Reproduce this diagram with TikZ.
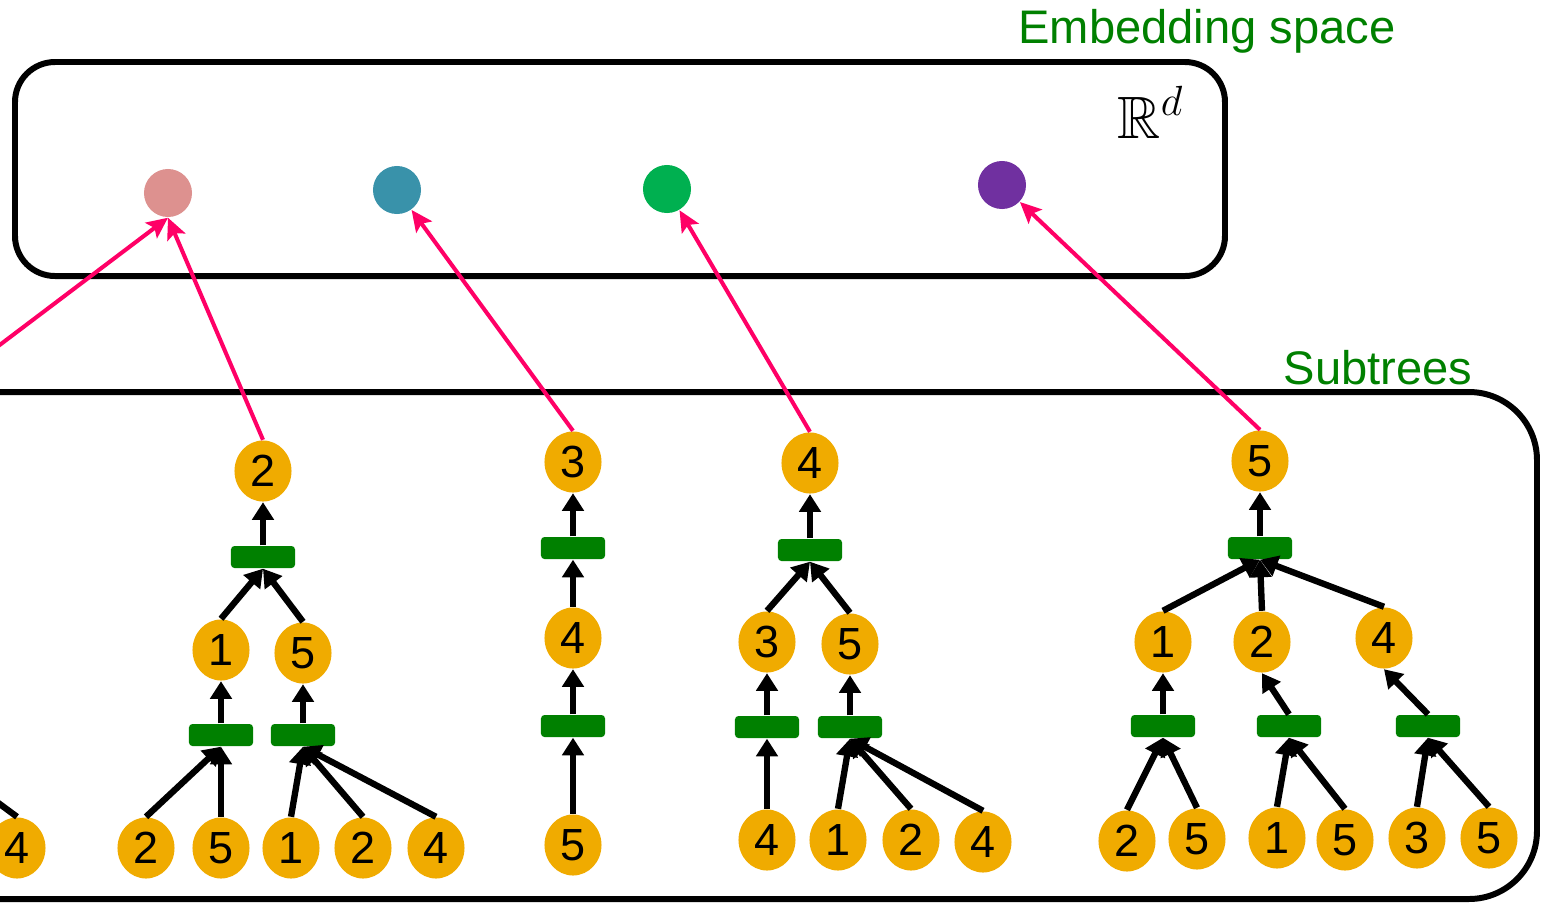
\documentclass[tikz,border=0pt]{standalone}
\usepackage{amsmath}
\usepackage{amssymb}
\usepackage{fontspec}
\setmainfont{Liberation Sans}
\usetikzlibrary{arrows.meta}
\usetikzlibrary{shapes.geometric}

\definecolor{vorange}{RGB}{240,171,0}
\definecolor{bargreen}{RGB}{0,128,0}
\definecolor{mappink}{RGB}{255,0,102}
\definecolor{dotpink}{RGB}{221,145,143}
\definecolor{dotblue}{RGB}{57,146,170}
\definecolor{dotgreen}{RGB}{0,176,80}
\definecolor{dotpurple}{RGB}{112,48,160}

\begin{document}
\begin{tikzpicture}[x = 0.01cm, y = -0.01cm,
  vert/.style = {ellipse, fill = vorange, inner sep = 0pt, minimum width = 0.57cm, minimum height = 0.61cm, font = \fontsize{12.8}{14}\selectfont},
  agg/.style = {rectangle, rounded corners = 1pt, fill = bargreen, inner sep = 0pt, minimum width = 0.64cm, minimum height = 0.22cm},
  emb/.style = {circle, inner sep = 0pt, minimum size = 0.48cm},
  edge/.style = {line width = 1.8pt, -{Triangle[length = 5pt, width = 6pt]}},
  map/.style = {mappink, line width = 1.15pt, -{Stealth[length = 6pt, width = 5.5pt, inset = 1.2pt]}},
  box/.style = {line width = 1.7pt},
  caption/.style = {text = bargreen, font = \fontsize{13.4}{16}\selectfont}]
\useasboundingbox (0, 0) rectangle (1544, 902);

%draw embedding space
\draw [box, rounded corners = 0.4cm] (15, 62) rectangle (1225, 276);
\node [caption, anchor = base] (embtxt) at (1207, 43) {Embedding space};
\node [anchor = base west, inner sep = 0pt, font = \fontsize{17}{20}\selectfont] (rd) at (1117, 138) {$\mathbb{R}^d$};

\node [emb, fill = dotpink] (pdot) at (168, 193) {};
\node [emb, fill = dotblue] (bdot) at (397, 190) {};
\node [emb, fill = dotgreen] (gdot) at (667, 189) {};
\node [emb, fill = dotpurple] (udot) at (1002, 185) {};

%draw subtree box
\draw [box, rounded corners = 0.68cm] (-200, 392) rectangle (1537, 899);
\node [caption, anchor = base] (subtxt) at (1378, 384) {Subtrees};

%cut off tree on the left
\coordinate (lroot) at (-126, 440);
\coordinate (lbar) at (-80, 745);
\node [vert] (l4) at (17, 848) {4};
\draw [edge] (l4.north) -- (lbar);

%draw tree 2
\node [vert] (a) at (263, 471) {2};
\node [agg] (ab) at (263, 557) {};
\node [vert] (a1) at (221, 650) {1};
\node [vert] (a5) at (303, 653) {5};
\node [agg] (a1b) at (221, 735) {};
\node [agg] (a5b) at (303, 735) {};
\node [vert] (a12) at (146, 848) {2};
\node [vert] (a15) at (221, 848) {5};
\node [vert] (a51) at (291, 848) {1};
\node [vert] (a52) at (363, 848) {2};
\node [vert] (a54) at (436, 848) {4};

\draw [edge] (ab.north) -- (a.south);
\draw [edge] (a1.north) -- (ab.south);
\draw [edge] (a5.north) -- (ab.south);
\draw [edge] (a1b.north) -- (a1.south);
\draw [edge] (a5b.north) -- (a5.south);
\draw [edge] (a12.north) -- (a1b.south);
\draw [edge] (a15.north) -- (a1b.south);
\draw [edge] (a51.north) -- (a5b.south);
\draw [edge] (a52.north) -- (a5b.south);
\draw [edge] (a54.north) -- (a5b.south);

%draw tree 3
\node [vert] (b) at (573, 462) {3};
\node [agg] (bb) at (573, 548) {};
\node [vert] (b4) at (573, 638) {4};
\node [agg] (b4b) at (573, 726) {};
\node [vert] (b45) at (573, 845) {5};

\draw [edge] (bb.north) -- (b.south);
\draw [edge] (b4.north) -- (bb.south);
\draw [edge] (b4b.north) -- (b4.south);
\draw [edge] (b45.north) -- (b4b.south);

%draw tree 4
\node [vert] (c) at (810, 463) {4};
\node [agg] (cb) at (810, 550) {};
\node [vert] (c3) at (767, 642) {3};
\node [vert] (c5) at (850, 644) {5};
\node [agg] (c3b) at (767, 727) {};
\node [agg] (c5b) at (850, 727) {};
\node [vert] (c34) at (767, 840) {4};
\node [vert] (c51) at (838, 840) {1};
\node [vert] (c52) at (911, 840) {2};
\node [vert] (c54) at (983, 842) {4};

\draw [edge] (cb.north) -- (c.south);
\draw [edge] (c3.north) -- (cb.south);
\draw [edge] (c5.north) -- (cb.south);
\draw [edge] (c3b.north) -- (c3.south);
\draw [edge] (c5b.north) -- (c5.south);
\draw [edge] (c34.north) -- (c3b.south);
\draw [edge] (c51.north) -- (c5b.south);
\draw [edge] (c52.north) -- (c5b.south);
\draw [edge] (c54.north) -- (c5b.south);

%draw tree 5
\node [vert] (d) at (1260, 461) {5};
\node [agg] (db) at (1260, 548) {};
\node [vert] (d1) at (1163, 642) {1};
\node [vert] (d2) at (1262, 642) {2};
\node [vert] (d4) at (1384, 638) {4};
\node [agg] (d1b) at (1163, 726) {};
\node [agg] (d2b) at (1289, 726) {};
\node [agg] (d4b) at (1428, 726) {};
\node [vert] (d12) at (1127, 841) {2};
\node [vert] (d15) at (1197, 839) {5};
\node [vert] (d21) at (1277, 838) {1};
\node [vert] (d25) at (1345, 840) {5};
\node [vert] (d43) at (1417, 838) {3};
\node [vert] (d45) at (1489, 838) {5};

\draw [edge] (db.north) -- (d.south);
\draw [edge] (d1.north) -- (db.south);
\draw [edge] (d2.north) -- (db.south);
\draw [edge] (d4.north) -- (db.south);
\draw [edge] (d1b.north) -- (d1.south);
\draw [edge] (d2b.north) -- (d2.south);
\draw [edge] (d4b.north) -- (d4.south);
\draw [edge] (d12.north) -- (d1b.south);
\draw [edge] (d15.north) -- (d1b.south);
\draw [edge] (d21.north) -- (d2b.south);
\draw [edge] (d25.north) -- (d2b.south);
\draw [edge] (d43.north) -- (d4b.south);
\draw [edge] (d45.north) -- (d4b.south);

%embedding maps
\draw [map] (lroot) -- (pdot.south);
\draw [map] (a.north) -- (pdot.south);
\draw [map] (b.north) -- (bdot);
\draw [map] (c.north) -- (gdot);
\draw [map] (d.north) -- (udot);

\end{tikzpicture}
\end{document}
